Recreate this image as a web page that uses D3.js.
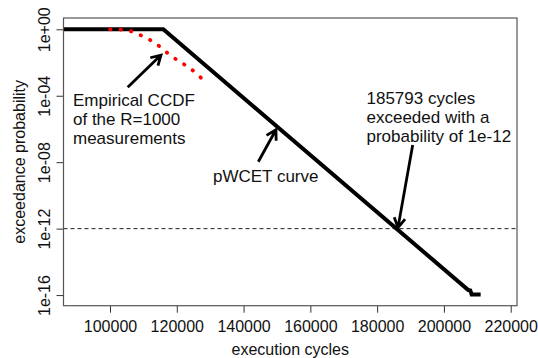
<!DOCTYPE html>
<html>
<head>
<meta charset="utf-8">
<script src="https://cdn.jsdelivr.net/npm/d3@7"></script>
<style>
  body { margin: 0; background: #fff; }
  text { font-family: "Liberation Sans", Arial, sans-serif; fill: #111; }
</style>
</head>
<body>
<div id="chart"></div>
<script>
// pWCET curve (cycles, exceedance probability)
const pwcetCycles = [86000, 115960, 207300, 207900, 208300, 211000];
const pwcetProb = [1, 1, 2.0e-16, 1.9e-16, 1.1e-16, 1.1e-16];

// empirical CCDF of the R=1000 measurements
const ccdfCycles = [100000, 103000, 105990, 108985, 111980, 114975, 117970, 120964, 123959, 127460];
const ccdfProb = [1, 0.96, 0.79, 0.46, 0.23, 0.089, 0.028, 0.011, 0.0045, 0.0011];

const xTicks = [100000, 120000, 140000, 160000, 180000, 200000, 220000];
const yTicks = [1, 1e-4, 1e-8, 1e-12, 1e-16];
const yTickLabels = ["1e+00", "1e-04", "1e-08", "1e-12", "1e-16"];
const threshold = 1e-12;
const wcetCycles = 185793;

const width = 538, height = 358;
const margin = {top: 18, right: 21, bottom: 52.3, left: 63.5};

const svg = d3.select("#chart").append("svg")
    .attr("width", width)
    .attr("height", height);

const x = d3.scaleLinear()
    .domain([86075, 221887])
    .range([margin.left, width - margin.right]);

const y = d3.scaleLog()
    .domain([Math.pow(10, 0.68), Math.pow(10, -16.64)])
    .range([margin.top, height - margin.bottom]);

svg.append("clipPath").attr("id", "clip")
    .append("rect")
    .attr("x", margin.left).attr("y", margin.top)
    .attr("width", width - margin.left - margin.right)
    .attr("height", height - margin.top - margin.bottom);

const plot = svg.append("g").attr("clip-path", "url(#clip)");

// dashed threshold line at 1e-12
plot.append("line")
    .attr("x1", margin.left).attr("x2", width - margin.right)
    .attr("y1", y(threshold)).attr("y2", y(threshold))
    .attr("stroke", "#222")
    .attr("stroke-width", 1)
    .attr("stroke-dasharray", "4,3");

const line = d3.line().x(d => x(d[0])).y(d => y(d[1]));

plot.append("path")
    .datum(d3.zip(pwcetCycles, pwcetProb))
    .attr("d", line)
    .attr("fill", "none")
    .attr("stroke", "#000")
    .attr("stroke-width", 4)
    .attr("stroke-linejoin", "miter");

plot.append("path")
    .datum(d3.zip(ccdfCycles, ccdfProb))
    .attr("d", line.curve(d3.curveMonotoneX))
    .attr("fill", "none")
    .attr("stroke", "#f00")
    .attr("stroke-width", 3.8)
    .attr("stroke-linecap", "round")
    .attr("stroke-dasharray", "0.5,10");

// axes
const xAxis = svg.append("g")
    .attr("transform", `translate(0,${height - margin.bottom})`)
    .call(d3.axisBottom(x).tickValues(xTicks).tickFormat(d3.format("d")).tickSize(7).tickSizeOuter(0));
xAxis.select(".domain").remove();
xAxis.selectAll("line").attr("stroke", "#333");
xAxis.selectAll("text")
    .attr("font-size", 16)
    .attr("dy", null)
    .attr("y", 26);

const yAxis = svg.append("g")
    .attr("transform", `translate(${margin.left},0)`)
    .call(d3.axisLeft(y).tickValues(yTicks).tickFormat((d, i) => yTickLabels[i]).tickSize(7).tickSizeOuter(0));
yAxis.select(".domain").remove();
yAxis.selectAll("line").attr("stroke", "#333");
yAxis.selectAll("text")
    .attr("font-size", 16)
    .attr("x", null).attr("dy", null)
    .attr("text-anchor", "middle")
    .attr("transform", "translate(-14,0) rotate(-90)");

// box
svg.append("rect")
    .attr("x", margin.left).attr("y", margin.top)
    .attr("width", width - margin.left - margin.right)
    .attr("height", height - margin.top - margin.bottom)
    .attr("fill", "none")
    .attr("stroke", "#555")
    .attr("stroke-width", 1.2);

// axis titles
svg.append("text")
    .attr("x", (margin.left + width - margin.right) / 2)
    .attr("y", 355)
    .attr("text-anchor", "middle")
    .attr("font-size", 16)
    .text("execution cycles");

svg.append("text")
    .attr("transform", `translate(25,${(margin.top + height - margin.bottom) / 2}) rotate(-90)`)
    .attr("text-anchor", "middle")
    .attr("font-size", 16)
    .text("exceedance probability");

// annotations
function arrow(x1, y1, x2, y2) {
    const a = Math.atan2(y2 - y1, x2 - x1), L = 11, s = Math.PI / 6;
    const p = d3.path();
    p.moveTo(x1, y1); p.lineTo(x2, y2);
    p.moveTo(x2 - L * Math.cos(a - s), y2 - L * Math.sin(a - s));
    p.lineTo(x2, y2);
    p.lineTo(x2 - L * Math.cos(a + s), y2 - L * Math.sin(a + s));
    svg.append("path").attr("d", p.toString())
        .attr("fill", "none").attr("stroke", "#000")
        .attr("stroke-width", 2.8).attr("stroke-linejoin", "miter");
}

function label(lines, x0, y0) {
    const t = svg.append("text").attr("font-size", 17);
    lines.forEach((s, i) => t.append("tspan").attr("x", x0).attr("y", y0 + i * 19).text(s));
}

// arrow 1 points to the empirical CCDF
arrow(127.7, 87.3, x(115270), y(0.028));
label(["Empirical CCDF", "of the R=1000", "measurements"], 73, 106);

// arrow 2 points to the pWCET curve
arrow(258.3, 161.7, x(149700), y(9e-7));
label(["pWCET curve"], 213, 182);

// arrow 3 points to the 1e-12 crossing
arrow(412.7, 145, x(wcetCycles) + 1.5, y(threshold) - 1);
label(["185793 cycles", "exceeded with a", "probability of 1e-12"], 366.5, 103.5);
</script>
</body>
</html>
